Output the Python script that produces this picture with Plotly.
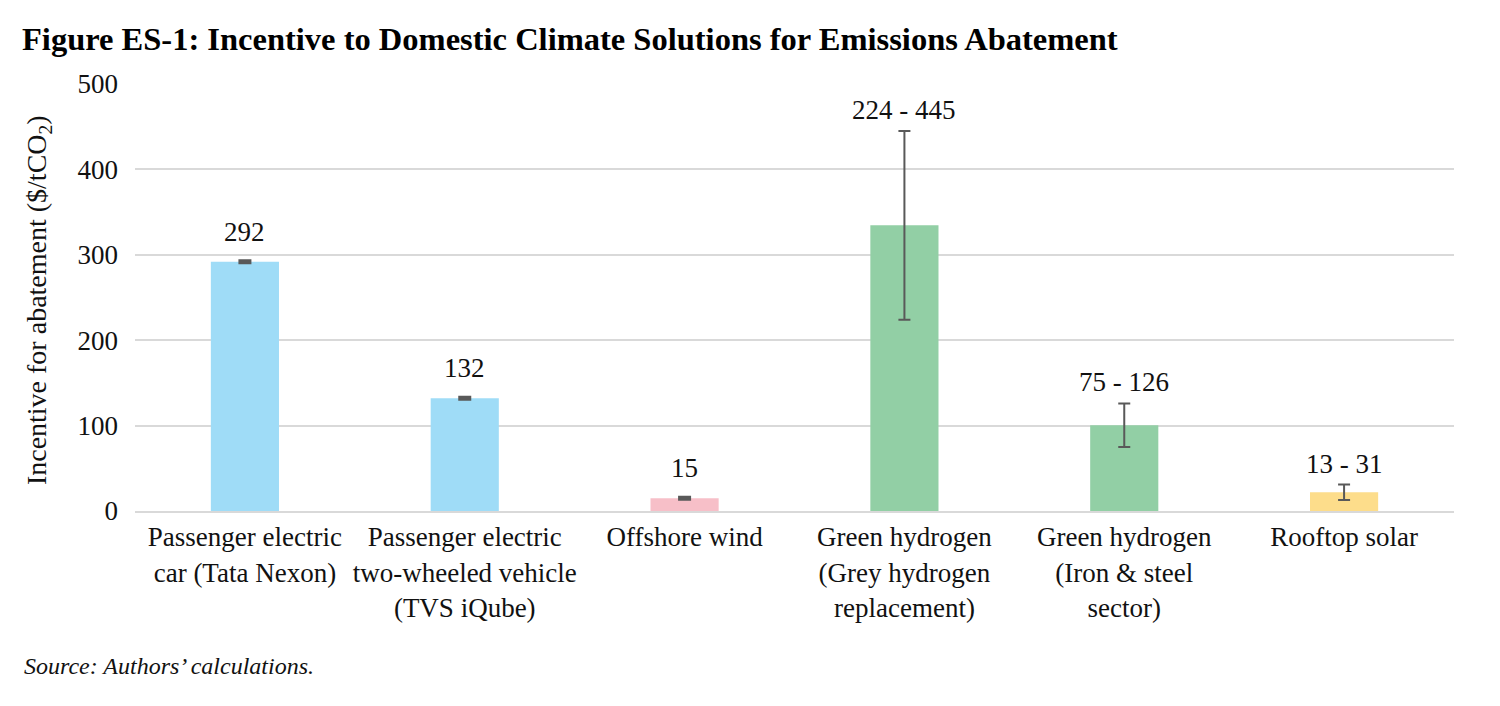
import plotly.graph_objects as go

categories = [
    "Passenger electric<br>car (Tata Nexon)",
    "Passenger electric<br>two-wheeled vehicle<br>(TVS iQube)",
    "Offshore wind",
    "Green hydrogen<br>(Grey hydrogen<br>replacement)",
    "Green hydrogen<br>(Iron & steel<br>sector)",
    "Rooftop solar",
]
values = [292, 132, 15, 334.5, 100.5, 22]
low = [292, 132, 15, 224, 75, 13]
high = [292, 132, 15, 445, 126, 31]
labels = ["292", "132", "15", "224 - 445", "75 - 126", "13 - 31"]
colors = ["#9fdcf7", "#9fdcf7", "#f7bfc8", "#92cfa5", "#92cfa5", "#fddd8b"]
is_range = [False, False, False, True, True, True]

y_ticks = [0, 100, 200, 300, 400, 500]

FONT = "Liberation Serif"
ERR = "#595959"
W, H = 1492, 698

fig = go.Figure()
fig.add_trace(go.Bar(x=categories, y=values, marker=dict(color=colors, line=dict(width=0)),
                     showlegend=False, hoverinfo="skip"))

# point-type markers (zero range)
px_ = [c for c, r in zip(categories, is_range) if not r]
py_ = [v for v, r in zip(values, is_range) if not r]
fig.add_trace(go.Scatter(x=px_, y=py_, mode="markers", marker=dict(size=1, opacity=0),
                         error_y=dict(type="data", array=[0] * len(px_), arrayminus=[0] * len(px_),
                                      color=ERR, thickness=5, width=6.5, visible=True),
                         showlegend=False, hoverinfo="skip"))
# range-type error bars
rx = [c for c, r in zip(categories, is_range) if r]
ry = [v for v, r in zip(values, is_range) if r]
rp = [h - v for h, v, r in zip(high, values, is_range) if r]
rm = [v - l for l, v, r in zip(low, values, is_range) if r]
fig.add_trace(go.Scatter(x=rx, y=ry, mode="markers", marker=dict(size=1, opacity=0),
                         error_y=dict(type="data", array=rp, arrayminus=rm,
                                      color=ERR, thickness=2, width=6, visible=True),
                         showlegend=False, hoverinfo="skip"))

for c, h, t, r in zip(categories, high, labels, is_range):
    fig.add_annotation(x=c, y=h, text=t, showarrow=False, yanchor="middle",
                       yshift=21 if r else 30, font=dict(family=FONT, size=27, color="#111"))

fig.add_annotation(xref="paper", yref="paper", x=-0.0735, y=0.494, textangle=-90,
                   text="Incentive for abatement ($/tCO<sub>2</sub>)", showarrow=False,
                   xanchor="center", yanchor="middle", font=dict(family=FONT, size=28, color="#111"))
fig.add_annotation(xref="paper", yref="paper", x=-0.0857, y=-0.363, xanchor="left", yanchor="middle",
                   text="Source: Authors’ calculations.", showarrow=False,
                   font=dict(family=FONT, size=24, color="#111", style="italic"))

fig.update_layout(
    width=W, height=H,
    margin=dict(l=127, r=46, t=76, b=195),
    paper_bgcolor="white", plot_bgcolor="white",
    bargap=0.69,
    title=dict(text="<b>Figure ES-1: Incentive to Domestic Climate Solutions for Emissions Abatement</b>",
               xref="container", yref="container", x=14 / W, xanchor="left",
               y=1 - 31 / H, yanchor="middle",
               font=dict(family=FONT, size=32.5, color="#000")),
    font=dict(family=FONT, size=27, color="#111"),
    xaxis=dict(showgrid=False, showline=True, linecolor="#d9d9d9", linewidth=2,
               tickfont=dict(family=FONT, size=27, color="#111"), ticks="", ticklabelstandoff=1),
    yaxis=dict(range=[0, 500], tickvals=y_ticks, showgrid=True, gridcolor="#d9d9d9", gridwidth=2,
               zeroline=False, showline=False, ticks="", ticklabelstandoff=16,
               tickfont=dict(family=FONT, size=27, color="#111")),
)

fig.write_html("out.html")
